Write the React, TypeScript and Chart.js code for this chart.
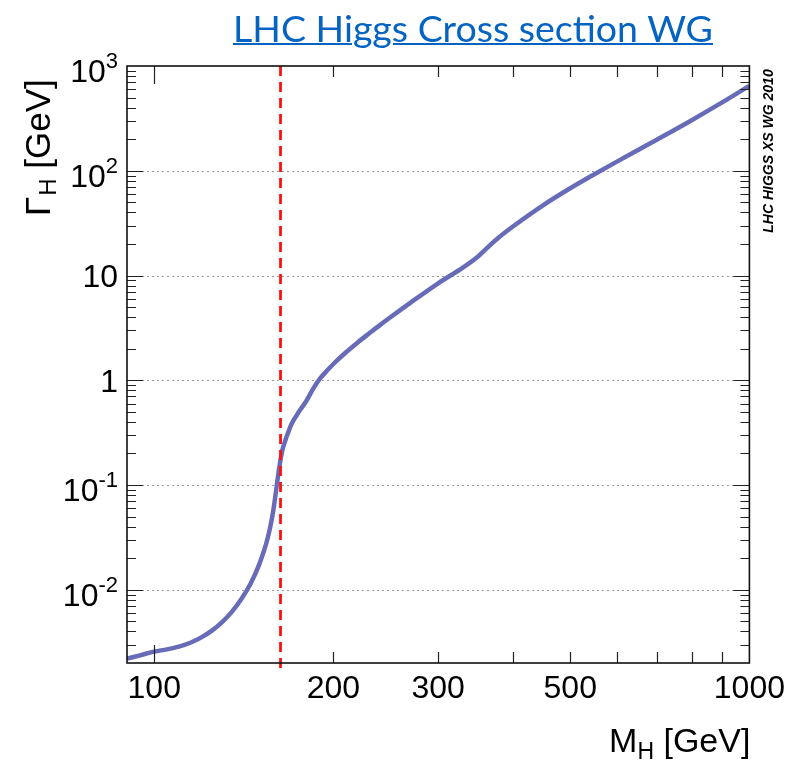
import React, { useEffect, useRef } from "react";
import { Chart, registerables } from "chart.js";

Chart.register(...registerables);

// ---------- data ----------
const massGeV = [
  90, 95, 100, 105, 110, 115, 120, 125, 130, 135, 140, 145, 150, 155, 158, 160,
  162, 164, 166, 168, 170, 175, 180, 185, 190, 195, 200, 210, 220, 230, 240, 250,
  270, 300, 330, 350, 360, 380, 400, 450, 500, 550, 600, 650, 700, 800, 900, 1000,
];
const widthGeV = [
  0.0022, 0.00238, 0.00257, 0.0027, 0.00287, 0.00312, 0.00351, 0.00407, 0.00491,
  0.00616, 0.00812, 0.0113, 0.0173, 0.0307, 0.051, 0.0831, 0.14, 0.21, 0.265,
  0.32, 0.38, 0.5, 0.631, 0.832, 1.04, 1.23, 1.43, 1.85, 2.31, 2.82, 3.4, 4.04,
  5.55, 8.43, 11.9, 15.2, 17.7, 23.3, 29.2, 46.8, 68.0, 93.1, 123, 158, 199, 304,
  449, 647,
];
const wwThresholdGeV = 163;
const xTickValues = [100, 200, 300, 500, 1000];
const yDecades = [0.01, 0.1, 1, 10, 100, 1000];
const yDecadeBase = ["10", "10", "1", "10", "10", "10"];
const yDecadeExp = ["-2", "-1", "", "", "2", "3"];
const xMin = 90;
const xMax = 1000;
const yMin = 0.002;
const yMax = 1000;
const titleText = "LHC Higgs Cross section WG";
const stampText = "LHC HIGGS XS WG 2010";
const xTitleParts = ["M", "H", " [GeV]"];
const yTitleParts = ["\u0393", "H", " [GeV]"];

const FONT = "'Liberation Sans', Arial, Helvetica, sans-serif";

const framePlugin = {
  id: "rootFrame",
  beforeDatasetsDraw(chart: any) {
    const { ctx, chartArea: a, scales } = chart;
    const y = scales.y;
    ctx.save();
    ctx.strokeStyle = "#9a9a9a";
    ctx.lineWidth = 1;
    ctx.setLineDash([2, 3]);
    for (const v of yDecades) {
      if (v >= yMax) continue;
      const py = Math.round(y.getPixelForValue(v)) + 0.5;
      ctx.beginPath();
      ctx.moveTo(a.left, py);
      ctx.lineTo(a.right, py);
      ctx.stroke();
    }
    ctx.restore();
  },
  afterDatasetsDraw(chart: any) {
    const { ctx, chartArea: a, scales } = chart;
    const x = scales.x;
    const y = scales.y;
    ctx.save();
    ctx.strokeStyle = "#222";
    ctx.lineWidth = 1.2;
    ctx.setLineDash([]);
    for (let e = -3; e <= 3; e++) {
      for (let k = 1; k <= 9; k++) {
        const v = k * Math.pow(10, e);
        if (v <= yMin * 1.0001 || v >= yMax * 0.9999) continue;
        const py = Math.round(y.getPixelForValue(v)) + 0.5;
        const len = k === 1 ? 16 : 9;
        ctx.beginPath();
        ctx.moveTo(a.left, py);
        ctx.lineTo(a.left + len, py);
        ctx.moveTo(a.right, py);
        ctx.lineTo(a.right - len, py);
        ctx.stroke();
      }
    }
    for (let v = 100; v < xMax; v += 100) {
      const px = Math.round(x.getPixelForValue(v)) + 0.5;
      const len = v === 100 ? 18 : 11;
      ctx.beginPath();
      ctx.moveTo(px, a.bottom);
      ctx.lineTo(px, a.bottom - len);
      ctx.moveTo(px, a.top);
      ctx.lineTo(px, a.top + len);
      ctx.stroke();
    }
    ctx.strokeStyle = "#111";
    ctx.lineWidth = 1.6;
    ctx.strokeRect(a.left, a.top, a.right - a.left, a.bottom - a.top);
    ctx.restore();
  },
  afterDraw(chart: any) {
    const { ctx, chartArea: a, scales } = chart;
    const y = scales.y;
    ctx.save();
    ctx.fillStyle = "#000";
    ctx.textBaseline = "alphabetic";
    const fs = 32;
    const sfs = 22;
    const right = a.left - 9;
    yDecades.forEach((v, i) => {
      const py = y.getPixelForValue(v);
      const base = yDecadeBase[i];
      const sup = yDecadeExp[i];
      ctx.textAlign = "right";
      if (sup) {
        ctx.font = `${sfs}px ${FONT}`;
        const sw = ctx.measureText(sup).width;
        ctx.fillText(sup, right, py + 2);
        ctx.font = `${fs}px ${FONT}`;
        ctx.fillText(base, right - sw, py + 16);
      } else {
        ctx.font = `${fs}px ${FONT}`;
        ctx.fillText(base, right, py + 0.358 * fs);
      }
    });

    const tfs = 35;
    const tsfs = 24;
    ctx.save();
    ctx.translate(50, 216);
    ctx.rotate(-Math.PI / 2);
    ctx.textAlign = "left";
    ctx.font = `${tfs}px ${FONT}`;
    ctx.fillText(yTitleParts[0], 0, 0);
    let off = ctx.measureText(yTitleParts[0]).width;
    ctx.font = `${tsfs}px ${FONT}`;
    ctx.fillText(yTitleParts[1], off + 1, 6);
    off += ctx.measureText(yTitleParts[1]).width + 1;
    ctx.font = `${tfs}px ${FONT}`;
    ctx.fillText(yTitleParts[2], off, 0);
    ctx.restore();

    const xfs = 34;
    const xsfs = 23;
    ctx.font = `${xfs}px ${FONT}`;
    const w0 = ctx.measureText(xTitleParts[0]).width;
    const w2 = ctx.measureText(xTitleParts[2]).width;
    ctx.font = `${xsfs}px ${FONT}`;
    const w1 = ctx.measureText(xTitleParts[1]).width;
    const startX = a.right + 1 - (w0 + w1 + w2);
    const baseY = 752;
    ctx.textAlign = "left";
    ctx.font = `${xfs}px ${FONT}`;
    ctx.fillText(xTitleParts[0], startX, baseY);
    ctx.font = `${xsfs}px ${FONT}`;
    ctx.fillText(xTitleParts[1], startX + w0, baseY + 7);
    ctx.font = `${xfs}px ${FONT}`;
    ctx.fillText(xTitleParts[2], startX + w0 + w1, baseY);

    ctx.save();
    ctx.translate(769, 151);
    ctx.rotate(-Math.PI / 2);
    ctx.font = `italic bold 14px ${FONT}`;
    ctx.textAlign = "center";
    ctx.textBaseline = "middle";
    ctx.fillText(stampText, 0, 0);
    ctx.restore();

    ctx.restore();
  },
};

export default function App() {
  const canvasRef = useRef<HTMLCanvasElement | null>(null);

  useEffect(() => {
    if (!canvasRef.current) return;
    const curve = massGeV.map((m, i) => ({ x: m, y: widthGeV[i] }));
    const threshold = [
      { x: wwThresholdGeV, y: yMax },
      { x: wwThresholdGeV, y: yMin * 0.88 },
    ];
    const chart = new Chart(canvasRef.current, {
      type: "line",
      data: {
        datasets: [
          {
            label: "threshold",
            data: threshold,
            borderColor: "#ff1010",
            borderWidth: 2.8,
            borderDash: [10, 6],
            pointRadius: 0,
            clip: { left: 0, top: 0, right: 0, bottom: 10 } as any,
          },
          {
            label: "width",
            data: curve,
            borderColor: "rgb(104,108,184)",
            borderWidth: 4.5,
            pointRadius: 0,
            cubicInterpolationMode: "monotone",
          },
        ],
      },
      options: {
        animation: false,
        responsive: true,
        maintainAspectRatio: false,
        layout: { padding: { top: 66, right: 42, left: 0, bottom: 0 } },
        plugins: {
          legend: { display: false },
          tooltip: { enabled: false },
          title: { display: false },
        },
        scales: {
          x: {
            type: "logarithmic",
            min: xMin,
            max: xMax,
            grid: { display: false, drawTicks: false },
            border: { display: false },
            afterBuildTicks: (scale: any) => {
              scale.ticks = xTickValues.map((v) => ({ value: v }));
            },
            afterFit: (scale: any) => {
              scale.height = 101;
            },
            ticks: {
              autoSkip: false,
              maxRotation: 0,
              minRotation: 0,
              padding: 7,
              color: "#000",
              font: { family: FONT, size: 32 },
              callback: (v: any) => String(v),
            },
          },
          y: {
            type: "logarithmic",
            min: yMin,
            max: yMax,
            grid: { display: false, drawTicks: false },
            border: { display: false },
            ticks: { display: false },
            afterFit: (scale: any) => {
              scale.width = 127;
            },
          },
        },
      },
      plugins: [framePlugin],
    } as any);
    return () => chart.destroy();
  }, []);

  return (
    <div style={{ position: "absolute", left: 0, top: 0, width: 792, height: 764, background: "#fff" }}>
      <canvas ref={canvasRef} />
      <div
        style={{
          position: "absolute",
          left: 233,
          top: 9,
          fontFamily: "Lato, 'Open Sans', sans-serif",
          fontSize: 37.5,
          lineHeight: "37px",
          color: "#0563C1",
          textDecoration: "underline",
          textDecorationThickness: 2,
          whiteSpace: "nowrap",
        }}
      >
        {titleText}
      </div>
    </div>
  );
}
